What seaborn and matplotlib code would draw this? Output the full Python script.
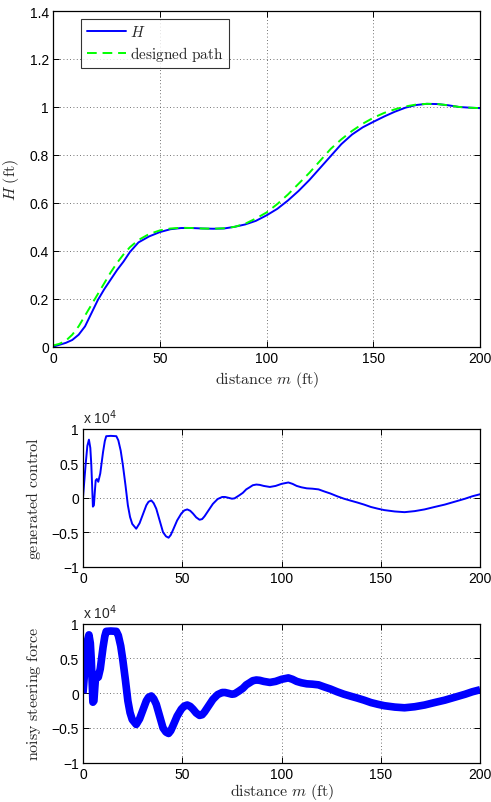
import numpy as np
import pandas as pd
import matplotlib
matplotlib.use("Agg")
import matplotlib.pyplot as plt
from matplotlib.ticker import FuncFormatter
import seaborn as sns

# distance samples for the height profile (ft)
dist_h = [0, 3, 6, 9, 12, 15, 18, 21, 24, 27, 30, 33, 36, 40, 45, 50, 55, 60, 65, 70,
          75, 80, 85, 90, 95, 100, 105, 110, 115, 120, 125, 130, 135, 140, 145, 150,
          155, 160, 165, 170, 175, 180, 185, 190, 195, 200]
# achieved height H (ft)
h_actual = [0, 0.008, 0.016, 0.028, 0.05, 0.085, 0.14, 0.195, 0.24, 0.28, 0.32, 0.355,
            0.395, 0.435, 0.46, 0.478, 0.49, 0.495, 0.495, 0.493, 0.492, 0.493, 0.50,
            0.51, 0.525, 0.548, 0.575, 0.61, 0.65, 0.695, 0.745, 0.795, 0.845, 0.885,
            0.915, 0.938, 0.96, 0.98, 0.997, 1.008, 1.013, 1.012, 1.007, 1.0, 0.997, 0.995]
# designed path (ft)
h_design = [0.005, 0.012, 0.025, 0.05, 0.085, 0.13, 0.175, 0.22, 0.265, 0.31, 0.35, 0.385,
            0.415, 0.445, 0.47, 0.485, 0.493, 0.496, 0.495, 0.493, 0.492, 0.494, 0.50,
            0.513, 0.535, 0.56, 0.595, 0.635, 0.68, 0.725, 0.775, 0.825, 0.865, 0.9,
            0.93, 0.955, 0.975, 0.99, 1.002, 1.01, 1.013, 1.012, 1.007, 1.0, 0.997, 0.995]

# generated control, in units of 1e4
dist_u = [0, 1.3, 2.2, 3.0, 3.7, 4.2, 4.7, 5.0, 5.5, 6.0, 6.4, 7.0, 7.7, 8.7, 10.1, 11.0,
          11.7, 14, 16.8, 17.8, 19, 20.1, 21.4, 22.6, 23.7, 24.8, 26.8, 28.5, 30.2, 31.9,
          33, 34.4, 35.6, 36.9, 38.6, 40.3, 41.8, 43.1, 44.2, 45.3, 47.4, 49.5, 51, 52.5,
          54, 55.4, 57, 58.7, 60, 61.2, 63.3, 65.4, 67.8, 70.1, 71.5, 73, 75, 76.3, 78.5,
          80.5, 82.2, 83.9, 85.5, 87.3, 89, 91, 94.1, 97, 100, 103.4, 105.5, 107.6, 110,
          112.7, 115.5, 118.6, 121.5, 124.6, 128, 131.4, 135, 138.1, 141.5, 145, 148.5,
          151.7, 157, 161.9, 167, 172, 177, 182.2, 187, 192.4, 196, 200]
control_1e4 = [0, 0.47, 0.75, 0.84, 0.72, 0.47, 0.1, -0.13, -0.11, 0.1, 0.25, 0.27, 0.23,
               0.35, 0.66, 0.82, 0.89, 0.895, 0.89, 0.83, 0.68, 0.47, 0.18, -0.11, -0.28,
               -0.38, -0.45, -0.37, -0.24, -0.11, -0.06, -0.04, -0.08, -0.16, -0.33, -0.50,
               -0.56, -0.58, -0.54, -0.47, -0.33, -0.23, -0.185, -0.17, -0.19, -0.23,
               -0.285, -0.32, -0.31, -0.27, -0.18, -0.09, -0.02, 0.01, 0.01, 0.0, -0.015,
               -0.01, 0.03, 0.07, 0.12, 0.15, 0.18, 0.19, 0.185, 0.17, 0.155, 0.17, 0.2,
               0.22, 0.2, 0.17, 0.15, 0.135, 0.13, 0.12, 0.09, 0.06, 0.02, -0.015, -0.045,
               -0.07, -0.1, -0.135, -0.16, -0.18, -0.2, -0.21, -0.195, -0.17, -0.135,
               -0.10, -0.06, -0.015, 0.02, 0.05]

h_df = pd.DataFrame({"m": dist_h, "H": h_actual, "design": h_design})
u_df = pd.DataFrame({"m": dist_u, "u": control_1e4})

sns.set_theme(style="ticks")
plt.rcParams["font.family"] = ["Liberation Sans", "DejaVu Sans"]
plt.rcParams["mathtext.fontset"] = "cm"
plt.rcParams["axes.unicode_minus"] = True


def fmt(v, pos):
    s = "%g" % v
    return s.replace("-", "\u2212")


def style_axes(ax):
    for sp in ax.spines.values():
        sp.set_color("black")
        sp.set_linewidth(0.9)
    ax.tick_params(direction="in", top=True, right=True, length=4, width=0.7,
                   labelsize=10, colors="black", pad=3)
    ax.grid(True, linestyle=(0, (1, 3)), color="#444444", linewidth=0.6)
    ax.xaxis.set_major_formatter(FuncFormatter(fmt))
    ax.yaxis.set_major_formatter(FuncFormatter(fmt))


fig = plt.figure(figsize=(4.91, 8.03), dpi=100)

# top: height profile
ax1 = fig.add_axes([0.108, 0.567, 0.870, 0.418])
sns.lineplot(data=h_df, x="m", y="H", ax=ax1, color=(0, 0, 1), linewidth=1.4,
             label=r"$H$")
sns.lineplot(data=h_df, x="m", y="design", ax=ax1, color=(0, 1, 0), linewidth=1.4,
             linestyle=(0, (5, 3)), label=r"$\mathrm{designed\ path}$")
ax1.set_xlim(0, 200)
ax1.set_ylim(0, 1.4)
ax1.set_xticks([0, 50, 100, 150, 200])
ax1.set_yticks(np.arange(0, 1.41, 0.2))
style_axes(ax1)
ax1.set_xlabel(r"$\mathrm{distance}\ m\ \mathrm{(ft)}$", fontsize=11.5, labelpad=3)
ax1.set_ylabel(r"$H\ \mathrm{(ft)}$", fontsize=11.5, labelpad=6)
leg = ax1.legend(loc="upper left", bbox_to_anchor=(0.066, 0.976), fontsize=11,
                 frameon=True, fancybox=False, edgecolor="black", handlelength=2.6,
                 borderpad=0.35, labelspacing=0.3, handletextpad=0.25,
                 borderaxespad=0)
leg.get_frame().set_linewidth(0.8)

# middle: generated control
ax2 = fig.add_axes([0.169, 0.293, 0.809, 0.172])
sns.lineplot(data=u_df, x="m", y="u", ax=ax2, color=(0, 0, 1), linewidth=1.4)
ax2.set_ylabel(r"$\mathrm{generated\ control}$", fontsize=11.5, labelpad=6)
ax2.set_xlabel("")

# bottom: noisy steering force (same signal drawn as a noise band)
ax3 = fig.add_axes([0.169, 0.049, 0.809, 0.173])
sns.lineplot(data=u_df, x="m", y="u", ax=ax3, color=(0, 0, 1), linewidth=5.5,
             solid_capstyle="butt")
ax3.set_ylabel(r"$\mathrm{noisy\ steering\ force}$", fontsize=11.5, labelpad=6)
ax3.set_xlabel(r"$\mathrm{distance}\ m\ \mathrm{(ft)}$", fontsize=11.5, labelpad=0)

for ax in (ax2, ax3):
    ax.set_xlim(0, 200)
    ax.set_ylim(-1, 1)
    ax.set_xticks([0, 50, 100, 150, 200])
    ax.set_yticks([-1, -0.5, 0, 0.5, 1])
    style_axes(ax)
    ax.text(0.0, 1.02, r"x 10$^{4}$", transform=ax.transAxes, fontsize=10,
            ha="left", va="bottom", math_fontfamily="dejavusans")

fig.savefig("out.png", dpi=100)
